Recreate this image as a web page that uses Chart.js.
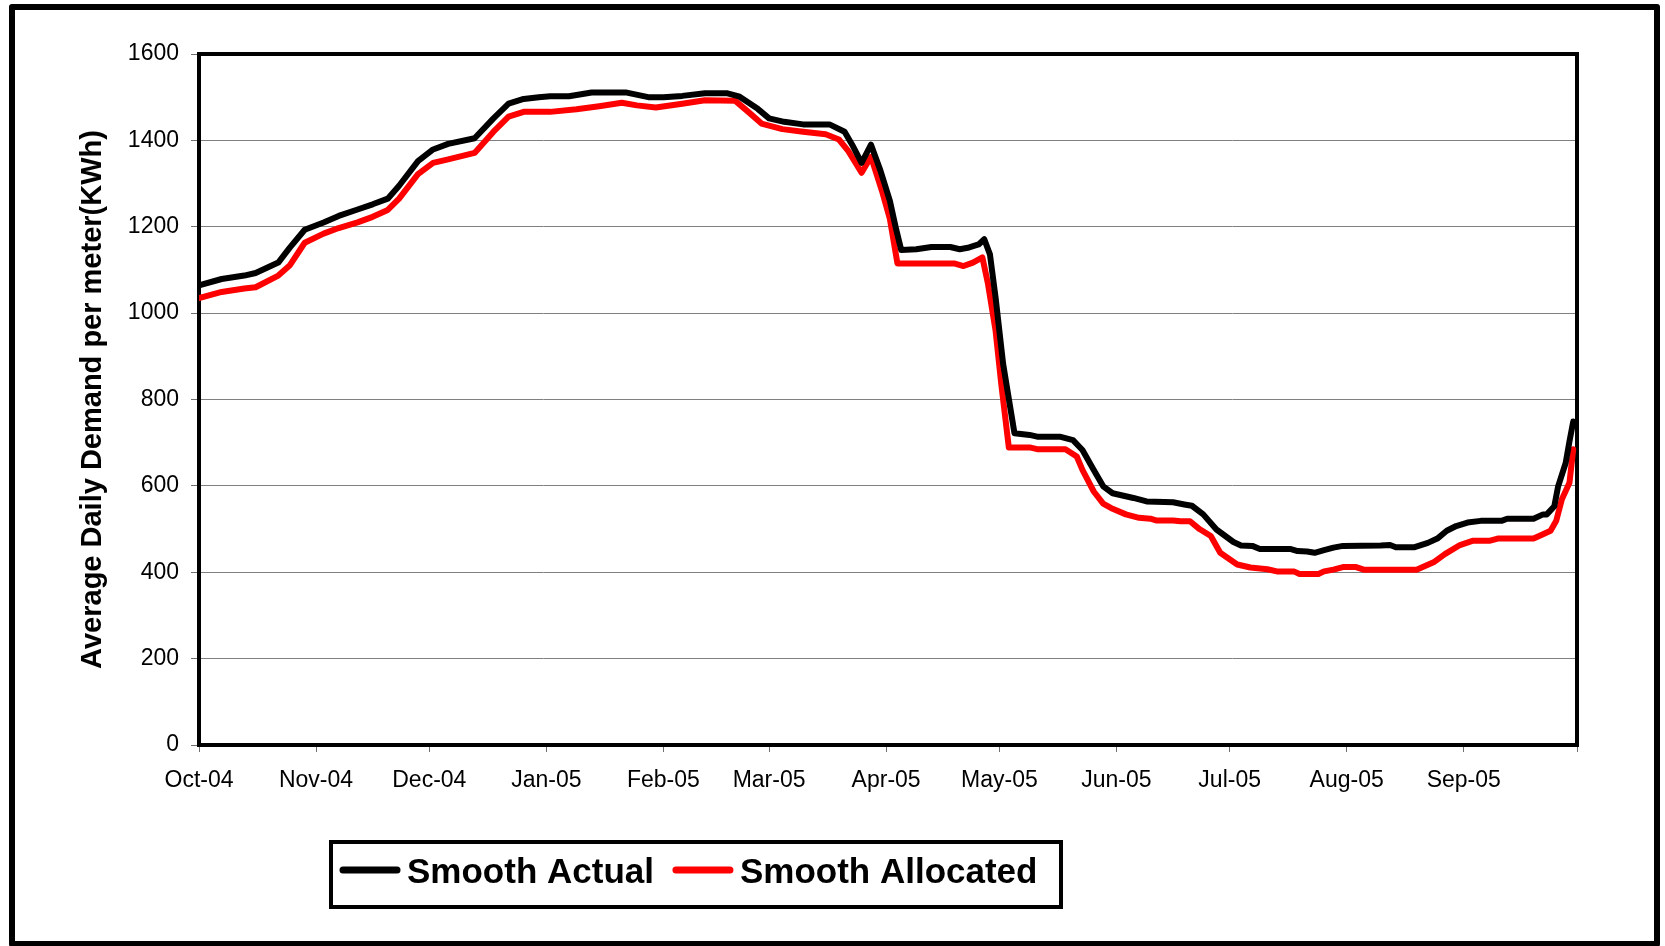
<!DOCTYPE html>
<html>
<head>
<meta charset="utf-8">
<script src="https://cdn.jsdelivr.net/npm/chart.js@4.4.1/dist/chart.umd.min.js"></script>
<style>
  html, body { margin: 0; padding: 0; background: #ffffff; }
  #wrap { position: relative; width: 1665px; height: 946px; }
  canvas { display: block; }
</style>
</head>
<body>
<div id="wrap"><canvas id="c" width="1665" height="946"></canvas></div>
<script>
// ---- Data (day index counted from 1 Oct 2004) ----
const monthLabels = ['Oct-04','Nov-04','Dec-04','Jan-05','Feb-05','Mar-05','Apr-05','May-05','Jun-05','Jul-05','Aug-05','Sep-05',''];
const monthStartDays = [0,31,61,92,123,151,182,212,243,273,304,335,365];
const yTickValues = [0,200,400,600,800,1000,1200,1400,1600];
const yTickLabels = ['0','200','400','600','800','1000','1200','1400','1600'];

const actualDays = [0,6,12,15,21,24,28,33,37,42,46,50,53,58,62,66,73,78,82,86,90,
  93,98,104,113,119,123,128,134,140,143,148,151,155,160,167,171,173,175.5,178,180.5,183,184.5,186,
  190,194,199,201.5,204,206.5,208,209.5,211,213,215,216,
  220,222,228,231.5,234,237,239.5,242,247.5,251,258,261,263,266,269.5,274,276,279,281,289,291,293.5,295.5,298,300.5,303,
  313,315.5,317,322,325.5,328,330.5,333,336,339.5,345,346.5,353.5,356,357,359,360,362,363,364];
const actualValues = [1064,1079,1087,1093,1117,1151,1193,1210,1225,1240,1252,1265,1295,1352,1379,1392,1405,1451,1485,1496,1500,
  1502,1502,1511,1511,1500,1500,1503,1509,1509,1502,1473,1451,1443,1437,1437,1420,1390,1348,1390,1330,1260,1200,1146,
  1148,1153,1153,1148,1152,1159,1171,1136,1036,882,775,722,
  718,714,714,706,683,637,599,583,572,564,562,557,554,534,499,470,462,461,454,454,449,448,445,451,457,461,
  462,463,458,458,468,478,496,507,515,519,519,524,524,534,534,553,599,653,703,749];

const allocatedDays = [0,6,12,15,21,24,28,33,37,42,46,50,53,58,62,66,73,78,82,86,
  93,100,106,112,116,121,128,134,142,145.5,149,154.5,160,166,169.5,172,175.5,178,181,183,185,187,
  200,202.5,205,207.5,209,211,212.5,214.5,220,222,229.5,232.5,234,237,239.5,242,245.5,249,252,253.5,258,260,262.5,
  265,268,270.5,275,278.5,283,285.5,290,291.5,296.5,298,300.5,303,306.5,308.5,322.5,327,330,334,337.5,342,344,353.5,
  356,358,359.5,361,363,364];
const allocatedValues = [1035,1049,1057,1060,1087,1110,1163,1184,1197,1210,1223,1239,1265,1322,1348,1356,1371,1420,1455,1466,
  1466,1472,1479,1487,1481,1476,1485,1493,1492,1466,1439,1426,1420,1414,1402,1375,1325,1362,1280,1218,1115,1115,
  1115,1109,1117,1129,1067,959,836,689,689,685,685,668,637,587,559,547,534,526,524,520,520,518,518,
  500,484,445,418,411,407,402,402,396,396,402,406,412,412,406,406,423,442,463,473,473,478,478,
  488,496,519,569,607,685];

const seriesLabels = ['Smooth Actual','Smooth Allocated'];
const seriesColors = ['#000000','#ff0000'];

// ---- Plugins: frames and legend ----
const framePlugin = {
  id: 'frames',
  beforeDraw(chart) {
    const ctx = chart.ctx;
    ctx.save();
    ctx.fillStyle = '#ffffff';
    ctx.fillRect(0, 0, chart.width, chart.height);
    ctx.restore();
  },
  beforeDatasetsDraw(chart) {
    const {ctx, chartArea: a} = chart;
    ctx.save();
    ctx.strokeStyle = '#000000';
    ctx.lineWidth = 4;
    ctx.lineJoin = 'miter';
    ctx.strokeRect(a.left, a.top, a.right - a.left, a.bottom - a.top);
    ctx.restore();
  },
  afterDraw(chart) {
    const ctx = chart.ctx;
    ctx.save();
    // outer border
    ctx.strokeStyle = '#000000';
    ctx.lineWidth = 6;
    ctx.lineJoin = 'round';
    ctx.strokeRect(12, 7, 1645, 937);
    // legend box
    const bx = 331, by = 842, bw = 730, bh = 65;
    ctx.lineWidth = 4;
    ctx.lineJoin = 'miter';
    ctx.strokeRect(bx, by, bw, bh);
    ctx.font = 'bold 35px "Liberation Sans", Arial, sans-serif';
    ctx.textBaseline = 'alphabetic';
    ctx.textAlign = 'left';
    const lineY = 870;
    let x = 343;
    chart.data.datasets.forEach((ds, i) => {
      ctx.strokeStyle = ds.borderColor;
      ctx.lineWidth = 7;
      ctx.lineCap = 'round';
      ctx.beginPath();
      ctx.moveTo(x, lineY);
      ctx.lineTo(x + 54, lineY);
      ctx.stroke();
      ctx.fillStyle = '#000000';
      ctx.fillText(ds.label, x + 64, 883);
      x += 64 + ctx.measureText(ds.label).width + 22;
    });
    ctx.restore();
  }
};

const ctx = document.getElementById('c').getContext('2d');
new Chart(ctx, {
  type: 'line',
  data: {
    datasets: [
      {
        label: seriesLabels[0],
        data: actualDays.map((d, i) => ({x: d, y: actualValues[i]})),
        borderColor: seriesColors[0],
        backgroundColor: seriesColors[0],
        borderWidth: 6,
        pointRadius: 0,
        tension: 0,
        borderJoinStyle: 'round',
        borderCapStyle: 'round',
        order: 1
      },
      {
        label: seriesLabels[1],
        data: allocatedDays.map((d, i) => ({x: d, y: allocatedValues[i]})),
        borderColor: seriesColors[1],
        backgroundColor: seriesColors[1],
        borderWidth: 6,
        pointRadius: 0,
        tension: 0,
        borderJoinStyle: 'round',
        borderCapStyle: 'round',
        order: 2
      }
    ]
  },
  options: {
    responsive: false,
    animation: false,
    devicePixelRatio: 1,
    layout: { padding: { left: 76, right: 88, top: 54, bottom: 141 } },
    plugins: {
      legend: { display: false },
      tooltip: { enabled: false }
    },
    scales: {
      x: {
        type: 'linear',
        min: 0,
        max: 365,
        afterBuildTicks(scale) {
          scale.ticks = monthStartDays.map(v => ({value: v}));
        },
        afterFit(scale) { scale.height = 60; },
        ticks: {
          autoSkip: false,
          maxRotation: 0,
          minRotation: 0,
          padding: 15,
          color: '#000000',
          font: { family: '"Liberation Sans", Arial, sans-serif', size: 23 },
          callback: (v, i) => monthLabels[i]
        },
        grid: {
          drawOnChartArea: false,
          drawTicks: true,
          tickLength: 7,
          tickColor: '#707070',
          tickWidth: 1
        },
        border: { display: false }
      },
      y: {
        min: 0,
        max: 1600,
        afterBuildTicks(scale) {
          scale.ticks = yTickValues.map(v => ({value: v}));
        },
        afterFit(scale) { scale.width = 123; },
        ticks: {
          padding: 12,
          color: '#000000',
          font: { family: '"Liberation Sans", Arial, sans-serif', size: 23 },
          callback: (v, i) => yTickLabels[i]
        },
        grid: {
          color: '#808080',
          lineWidth: 1,
          drawTicks: true,
          tickLength: 8,
          tickColor: '#707070'
        },
        border: { display: false },
        title: {
          display: true,
          text: 'Average Daily Demand per meter(KWh)',
          color: '#000000',
          padding: 0,
          font: { family: '"Liberation Sans", Arial, sans-serif', size: 29, weight: 'bold' }
        }
      }
    }
  },
  plugins: [framePlugin]
});
</script>
</body>
</html>
